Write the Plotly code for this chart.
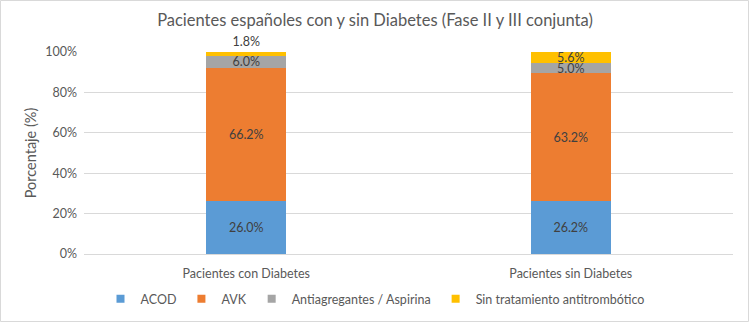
import plotly.graph_objects as go

categories = ["Pacientes con Diabetes", "Pacientes sin Diabetes"]
series_names = ["ACOD", "AVK", "Antiagregantes / Aspirina", "Sin tratamiento antitrombótico"]
acod = [26.0, 26.2]
avk = [66.2, 63.2]
antiag = [6.0, 5.0]
sin_trat = [1.8, 5.6]
y_ticks = [0, 20, 40, 60, 80, 100]
y_tick_labels = ["0%", "20%", "40%", "60%", "80%", "100%"]

colors = ["#5B9BD5", "#ED7D31", "#A5A5A5", "#FFC000"]
values = [acod, avk, antiag, sin_trat]
font_family = "Lato, Open Sans, sans-serif"
FS = 12.5

W, H = 750, 323
ML, MR, MT, MB = 84, 17, 52, 69
PW, PH = W - ML - MR, H - MT - MB

fig = go.Figure()
for name, vals, col in zip(series_names, values, colors):
    positions = ["inside"] * len(vals)
    if name == series_names[-1]:
        positions = ["outside" if v < 3 else "inside" for v in vals]
    fig.add_trace(go.Bar(
        x=categories, y=vals, name=name,
        marker=dict(color=col, line=dict(width=0)),
        text=[f"{v:.1f}%" for v in vals],
        textposition=positions,
        insidetextanchor="middle",
        textfont=dict(size=FS, color="#404040", family=font_family),
        cliponaxis=False,
        hoverinfo="skip",
        showlegend=False,
    ))
# legend entries with small square markers
for name, col in zip(series_names, colors):
    fig.add_trace(go.Scatter(
        x=[None], y=[None], mode="markers", name=name,
        marker=dict(symbol="square", size=8, color=col),
        hoverinfo="skip", showlegend=True,
    ))

fig.update_layout(
    barmode="stack",
    bargap=0.753,
    width=W, height=H,
    margin=dict(l=ML, r=MR, t=MT, b=MB, autoexpand=False),
    paper_bgcolor="white",
    plot_bgcolor="white",
    uniformtext=dict(minsize=FS, mode="show"),
    title=dict(text="Pacientes españoles con y sin Diabetes (Fase II y III conjunta)",
               x=0.5, xanchor="center", y=1 - 20 / H, yanchor="middle", yref="container",
               font=dict(size=16.5, color="#595959", family=font_family)),
    legend=dict(orientation="h", x=0.5, xanchor="center", xref="container",
                y=1 - 299 / H, yanchor="middle", yref="container",
                font=dict(size=FS, color="#595959", family=font_family),
                traceorder="normal", itemwidth=30),
    font=dict(family=font_family, color="#595959"),
    showlegend=True,
)
fig.update_xaxes(showgrid=False, showline=True, linecolor="#D9D9D9", linewidth=1,
                 tickfont=dict(size=FS, color="#595959"), ticks="", ticklabelstandoff=8)
fig.update_yaxes(range=[0, 100], tickvals=y_ticks, ticktext=y_tick_labels,
                 showgrid=True, gridcolor="#D9D9D9", gridwidth=1, zeroline=False,
                 tickfont=dict(size=FS, color="#595959"), ticklabelstandoff=6,
                 title=dict(text="Porcentaje (%)", font=dict(size=14.5, color="#595959"), standoff=5))
fig.add_shape(type="rect", xref="paper", yref="paper",
              x0=-(ML - 0.5) / PW, x1=1 + (MR - 1.5) / PW,
              y0=-(MB - 1.5) / PH, y1=1 + (MT - 0.5) / PH,
              line=dict(color="#D9D9D9", width=1), layer="below")

fig.write_html("out.html", config={"displayModeBar": False},
               post_script="document.body.style.margin='0';document.body.style.padding='0';")
